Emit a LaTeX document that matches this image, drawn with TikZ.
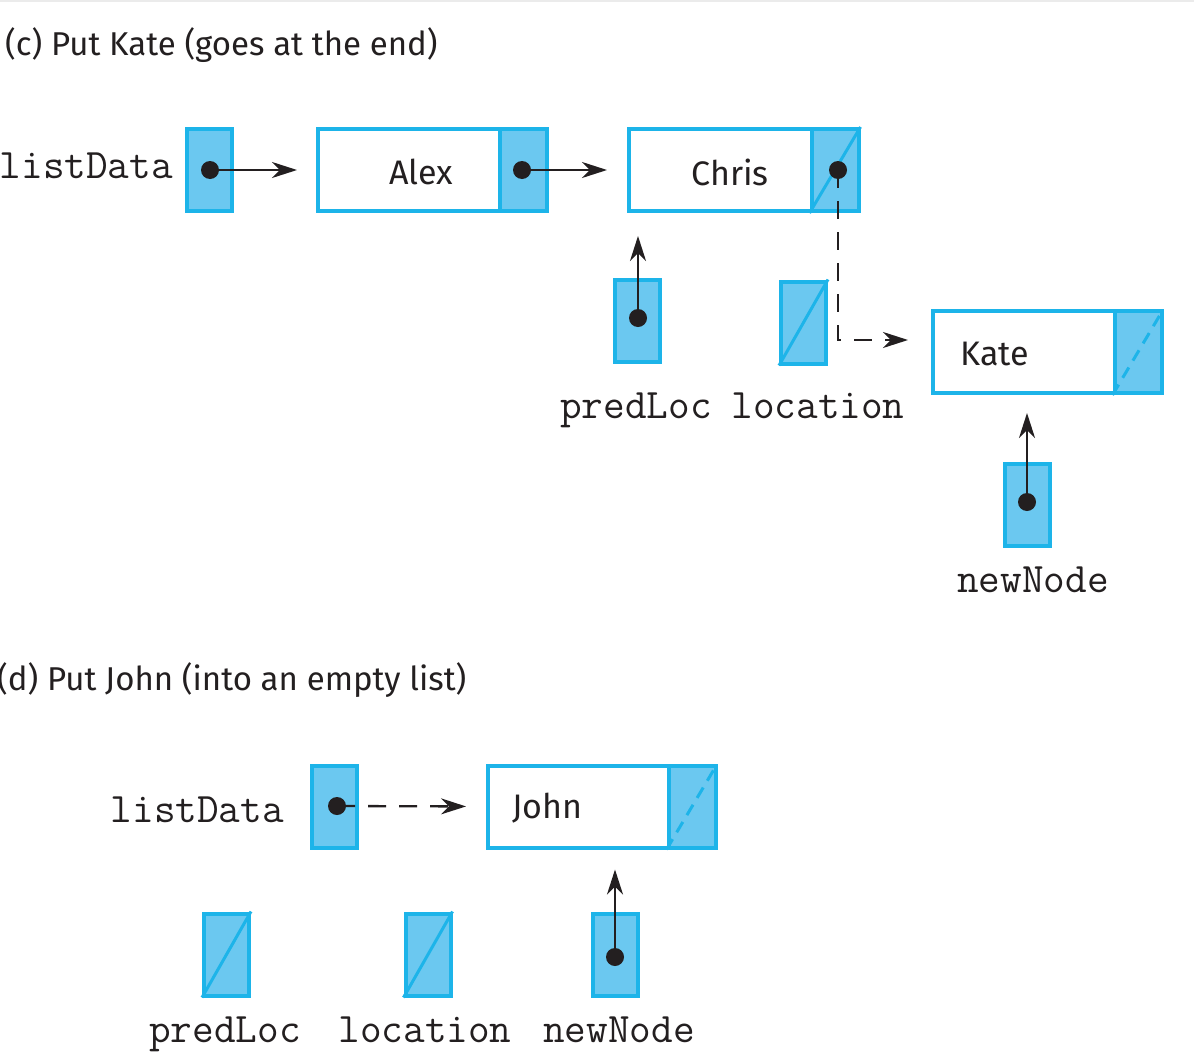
\documentclass[tikz,border=0pt]{standalone}
\usepackage{fontspec}
\setmainfont{Fira Sans}
\usetikzlibrary{arrows.meta}
\definecolor{bord}{HTML}{1DB4E9}
\definecolor{boxfill}{HTML}{6BC8F0}
\definecolor{ink}{HTML}{231F20}
\tikzset{
  ptrbox/.style={draw=bord, fill=boxfill, line width=4pt, minimum width=45pt, minimum height=82pt, inner sep=0pt},
  datapart/.style={draw=bord, fill=white, line width=4pt, minimum height=82pt, inner sep=0pt},
  nextpart/.style={draw=bord, fill=boxfill, line width=4pt, minimum width=47pt, minimum height=82pt, inner sep=0pt},
  slash/.style={draw=bord, line width=3pt},
  dslash/.style={draw=bord, line width=3pt, dash pattern=on 12pt off 8pt},
  ptr/.style={draw=ink, line width=2.3pt, -{Stealth[length=25pt,width=16pt,inset=8pt]}},
  dptr/.style={ptr, dash pattern=on 18pt off 13pt},
  dot/.style={fill=ink},
  title/.style={font=\fontsize{33pt}{40pt}\selectfont, text=ink, inner sep=0pt},
  val/.style={font=\fontsize{34pt}{40pt}\selectfont, text=ink, inner sep=0pt},
  var/.style={font=\ttfamily\fontsize{42pt}{44pt}\selectfont, text=ink, inner sep=0pt}
}
\begin{document}
\begin{tikzpicture}[x=1pt,y=-1pt]
\useasboundingbox (0,0) rectangle (1194,1052);
\fill[white] (0,0) rectangle (1194,1052);
\draw[color=black!8, line width=1.5pt] (0,1) -- (1194,1);

% ---------- (c) ----------
\node[title, anchor=base west] (tc) at (5,55) {(c) Put Kate (goes at the end)};

\node[var, anchor=base east] (ldlab) at (173,178) {listData};
\node[ptrbox] (ld) at (209.5,170) {};

\node[datapart, minimum width=182pt] (alexd) at (409,170) {};
\node[nextpart] (alexn) at (523.5,170) {};
\node[val] at (421,172) {Alex};

\node[datapart, minimum width=183pt] (chrisd) at (720.5,170) {};
\node[nextpart] (chrisn) at (835,170) {};
\node[val] at (730,172) {Chris};
\draw[slash] (chrisn.south west) -- (chrisn.north east);

\node[ptrbox] (pl) at (637,321) {};
\node[ptrbox] (loc) at (803.5,322.5) {};
\draw[slash] (loc.south west) -- (loc.north east);
\node[var, anchor=base] (pllab) at (636,418) {predLoc};
\node[var, anchor=base] (loclab) at (818,418) {location};

\node[datapart, minimum width=182pt] (kated) at (1024,352) {};
\node[nextpart] (katen) at (1138,352) {};
\node[val, anchor=west] at (960,354) {Kate};
\draw[dslash] (katen.south west) -- (katen.north east);

\node[ptrbox] (nn) at (1027,504.5) {};
\node[var, anchor=base] (nnlab) at (1033,592) {newNode};

\coordinate (ldd) at (210,170);
\coordinate (alexdot) at (522,170);
\coordinate (chrisdot) at (838,170);
\coordinate (pldot) at (638,318);
\coordinate (nndot) at (1027,502);
\coordinate (bend) at (838,340);

\draw[ptr, shorten >=19pt] (ldd) -- (alexd.west);
\draw[ptr, shorten >=20pt] (alexdot) -- (chrisd.west);
\draw[ptr, shorten >=23pt] (pldot) -- (pldot |- chrisd.south);
\draw[ptr, shorten >=18pt] (nndot) -- (nndot |- kated.south);
\draw[dptr, shorten >=23pt] (chrisdot) -- (bend) -- (bend -| kated.west);
\fill[dot] (ldd) circle (9pt);
\fill[dot] (alexdot) circle (9pt);
\fill[dot] (chrisdot) circle (9pt);
\fill[dot] (pldot) circle (9pt);
\fill[dot] (nndot) circle (9pt);

% ---------- (d) ----------
\node[title, anchor=base west] (td) at (-3,690) {(d) Put John (into an empty list)};

\node[var, anchor=base east] (ld2lab) at (284,822) {listData};
\node[ptrbox] (ld2) at (334.5,806.5) {};

\node[datapart, minimum width=181pt] (johnd) at (578.5,806.5) {};
\node[nextpart] (johnn) at (692,806.5) {};
\node[val, anchor=west] at (512,808) {John};
\draw[dslash] (johnn.south west) -- (johnn.north east);

\node[ptrbox] (pl2) at (226.5,954.5) {};
\draw[slash] (pl2.south west) -- (pl2.north east);
\node[ptrbox] (loc2) at (428,954.5) {};
\draw[slash] (loc2.south west) -- (loc2.north east);
\node[ptrbox] (nn2) at (615,954.5) {};

\node[var, anchor=base] (pl2lab) at (225,1042) {predLoc};
\node[var, anchor=base] (loc2lab) at (425,1042) {location};
\node[var, anchor=base] (nn2lab) at (619,1042) {newNode};

\coordinate (ld2dot) at (337,806);
\coordinate (nn2dot) at (615,957);
\draw[dptr, shorten >=20pt] (ld2dot) -- (johnd.west);
\draw[ptr, shorten >=20pt] (nn2dot) -- (nn2dot |- johnd.south);
\fill[dot] (ld2dot) circle (9pt);
\fill[dot] (nn2dot) circle (9pt);
\end{tikzpicture}
\end{document}
